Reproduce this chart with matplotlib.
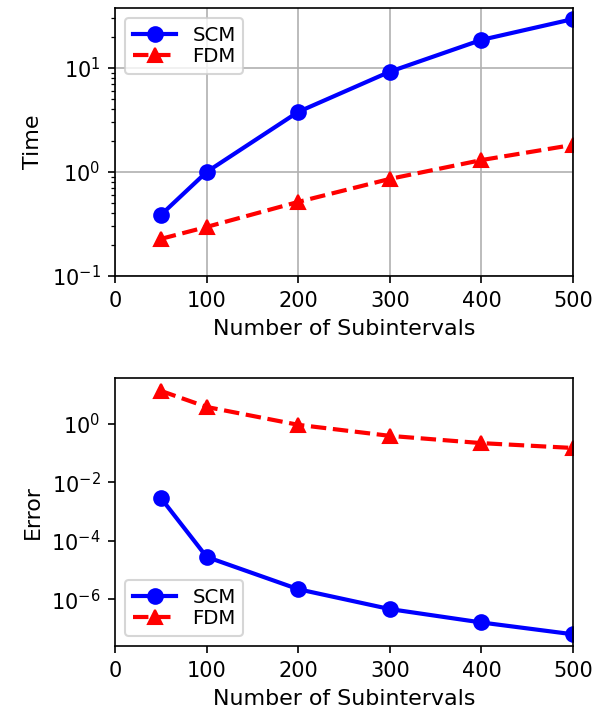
import numpy as np
from matplotlib import pyplot as plt

# Number of subintervals
n = [50, 100, 200, 300, 400, 500]

# Runtime of each method
time_scm = [0.386, 1.0, 3.78, 9.2, 18.6, 29.5]
time_fdm = [0.227, 0.296, 0.515, 0.857, 1.30, 1.82]

# Error of each method
err_scm = [2.9e-3, 2.8e-5, 2.2e-6, 4.6e-7, 1.6e-7, 6.3e-8]
err_fdm = [13.5, 3.8, 0.93, 0.39, 0.22, 0.15]

# Render at 150 dpi so default sizes match the reference
fig = plt.figure(figsize=(609 / 150, 713 / 150), dpi=150)
ax1 = fig.add_axes([0.189, 0.613, 0.752, 0.376])
ax2 = fig.add_axes([0.189, 0.094, 0.752, 0.376])

style = dict(lw=2, ms=7)
leg = dict(fontsize=9.5, labelspacing=0.1, handlelength=2.2)

# Time plot
ax1.semilogy(n, time_scm, 'bo-', label='SCM', **style)
ax1.semilogy(n, time_fdm, 'r^--', label='FDM', **style)
ax1.set_xlim(0, 500)
ax1.set_ylim(0.1, 37.8)
ax1.set_xlabel('Number of Subintervals', fontsize=10.6)
ax1.set_ylabel('Time', fontsize=10.6)
ax1.grid(True, which='major')
ax1.legend(loc='upper left', **leg)

# Error plot
ax2.semilogy(n, err_scm, 'bo-', label='SCM', **style)
ax2.semilogy(n, err_fdm, 'r^--', label='FDM', **style)
ax2.set_xlim(0, 500)
ax2.set_ylim(10**-7.6, 10**1.575)
ax2.set_xlabel('Number of Subintervals', fontsize=10.6)
ax2.set_ylabel('Error', fontsize=10.6)
ax2.legend(loc='lower left', **leg)

fig.savefig('out.png', dpi=150)
